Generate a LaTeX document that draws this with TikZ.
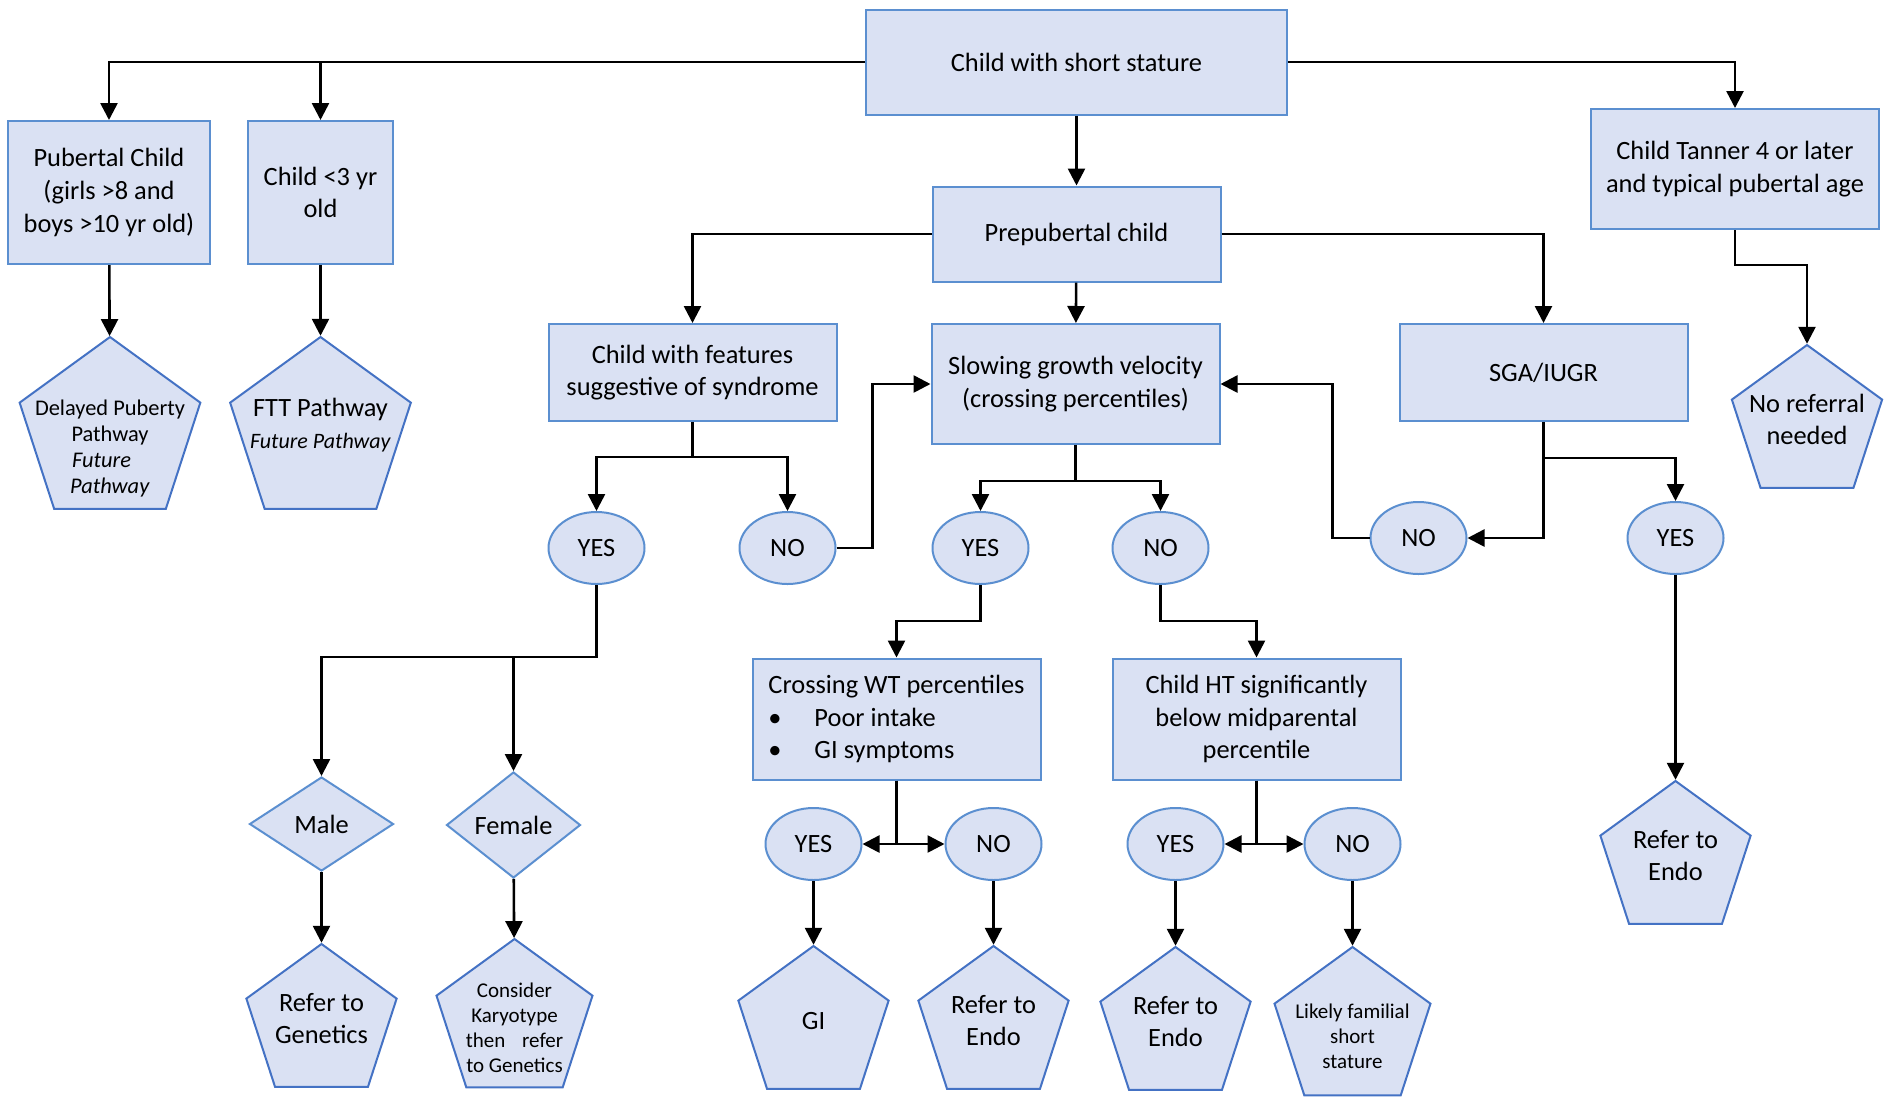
\documentclass[tikz,border=0pt]{standalone}
\usepackage{fontspec}
\setmainfont{Carlito}
\usetikzlibrary{shapes.geometric, arrows.meta}
\definecolor{boxfill}{HTML}{DAE1F3}
\definecolor{boxline}{HTML}{5B8FD0}
\definecolor{pentline}{HTML}{4472C4}
% text inside a pentagon, kept out of the shape size
\newcommand{\pentext}[2][-2pt]{\smash{\makebox[0pt]{\raisebox{#1}{\begin{tabular}{@{}c@{}}#2\end{tabular}}}}}
\tikzstyle{criterion} = [rectangle, minimum width=144pt, minimum height=48.5pt, inner sep=0pt, align=center, draw=boxline, line width=1pt, fill=boxfill, font=\fontsize{13.2}{16.3}\selectfont]
\tikzstyle{answer} = [ellipse, minimum width=48pt, minimum height=36pt, inner sep=0pt, draw=boxline, line width=1pt, fill=boxfill, font=\fontsize{13.2}{16}\selectfont]
\tikzstyle{gender} = [diamond, minimum width=72pt, minimum height=47pt, inner sep=0pt, draw=boxline, line width=1pt, fill=boxfill, font=\fontsize{13.2}{16}\selectfont]
\tikzstyle{pathway} = [regular polygon, regular polygon sides=5, minimum size=79pt, inner sep=0pt, draw=pentline, line width=1pt, fill=boxfill, font=\fontsize{13.2}{15.8}\selectfont]
\tikzstyle{arrow} = [line width=1.3pt, -{Triangle[width=8.5pt,length=8.5pt]}]

\begin{document}
\begin{tikzpicture}[x=0.5pt, y=-0.5pt, node distance=80pt]
\useasboundingbox (0,0) rectangle (1891,1099);

% Nodes
\node (start) [criterion, minimum width=210.5pt, minimum height=52.5pt] at (1076.5,62) {Child with short stature};
\node (prep) [criterion, minimum height=47.5pt, below of=start, yshift=-6pt] {Prepubertal child};
\node (pub) [criterion, minimum width=101pt, minimum height=71.5pt, below of=start, xshift=-483.75pt, yshift=14.75pt] {Pubertal Child\\(girls >8 and\\boys >10 yr old)};
\node (young) [criterion, minimum width=72.5pt, minimum height=71.5pt, right of=pub, xshift=25.75pt] {Child <3 yr\\old};
\node (tanner) [criterion, minimum height=60pt, below of=start, xshift=329.25pt, yshift=26.5pt] {Child Tanner 4 or later\\and typical pubertal age};
\node (delay) [pathway, minimum size=95pt, font=\fontsize{11.2}{13}\selectfont, below of=pub, xshift=0.5pt, yshift=-39.75pt] {\pentext[-11.5pt]{Delayed Puberty\\Pathway\\\textit{Future}\hspace*{8.5pt}\\\textit{Pathway}}};
\node (ftt) [pathway, minimum size=95pt, below of=young, yshift=-39.75pt] {\pentext[0pt]{FTT Pathway\\\fontsize{11}{16.5}\selectfont\textit{Future Pathway}}};
\node (noref) [pathway, below of=tanner, xshift=36pt, yshift=-47.5pt] {\pentext{No referral\\needed}};

\node (feat) [criterion, below of=prep, xshift=-192pt, yshift=10.75pt] {Child with features\\suggestive of syndrome};
\node (slow) [criterion, minimum height=60pt, below of=prep, xshift=-0.5pt, yshift=5pt] {Slowing growth velocity\\(crossing percentiles)};
\node (sga) [criterion, below of=prep, xshift=233.5pt, yshift=10.75pt] {SGA/IUGR};

\node (yes1) [answer, below of=feat, xshift=-48pt, yshift=-7.75pt] {YES};
\node (no1) [answer, below of=feat, xshift=47.5pt, yshift=-7.75pt] {NO};
\node (yes2) [answer, below of=slow, xshift=-47.5pt, yshift=-2pt] {YES};
\node (no2) [answer, below of=slow, xshift=42.5pt, yshift=-2pt] {NO};
\node (no3) [answer, below of=sga, xshift=-62.5pt, yshift=-2.75pt] {NO};
\node (yes3) [answer, below of=sga, xshift=66pt, yshift=-2.75pt] {YES};

\node (male) [gender, below of=yes1, xshift=-137.5pt, yshift=-58pt] {Male};
\node (female) [gender, minimum width=67pt, minimum height=53pt, below of=yes1, xshift=-41.5pt, yshift=-58.5pt] {Female};
\node (genetics) [pathway, below of=male, yshift=-19.5pt] {\pentext{Refer to\\Genetics}};
\node (karyo) [pathway, minimum size=82pt, font=\fontsize{10.5}{12.5}\selectfont, below of=female, xshift=0.5pt, yshift=-18pt] {\pentext[-7pt]{Consider\\Karyotype\\then\hspace{0.8em}refer\\to Genetics}};

\node (cross) [criterion, minimum height=60.5pt, align=left, below of=yes2, xshift=-42pt, yshift=-5.5pt] {Crossing WT percentiles\\\makebox[23pt][l]{\textbullet}Poor intake\\\makebox[23pt][l]{\textbullet}GI symptoms};
\node (ht) [criterion, minimum height=60.5pt, below of=no2, xshift=48pt, yshift=-5.5pt] {Child HT significantly\\below midparental\\percentile};

\node (yes4) [answer, below of=cross, xshift=-41.5pt, yshift=17.5pt] {YES};
\node (no4) [answer, below of=cross, xshift=48.5pt, yshift=17.5pt] {NO};
\node (yes5) [answer, below of=ht, xshift=-40.5pt, yshift=17.5pt] {YES};
\node (no5) [answer, below of=ht, xshift=48pt, yshift=17.5pt] {NO};

\node (gi) [pathway, below of=yes4, yshift=-10.5pt] {\pentext{GI}};
\node (endoa) [pathway, below of=no4, yshift=-10.5pt] {\pentext{Refer to\\Endo}};
\node (endob) [pathway, below of=yes5, yshift=-11pt] {\pentext{Refer to\\Endo}};
\node (likely) [pathway, minimum size=82pt, font=\fontsize{10.5}{12.5}\selectfont, below of=no5, yshift=-12.5pt] {\pentext[-7.5pt]{Likely familial\\short\\stature}};
\node (endoc) [pathway, below of=yes3, yshift=-81pt] {\pentext{Refer to\\Endo}};

% Arrows
\draw [arrow] (start) -- (prep);
\draw [arrow] (start.west) -| (pub);
\draw [arrow] (start.west) -| (young);
\draw [arrow] (start.east) -| (tanner);
\draw [arrow] (pub) -- (delay);
\draw [arrow] (young) -- (ftt);
\draw [arrow] (tanner.south) -- ++(0,35) -| (noref);

\draw [arrow] (prep.west) -| (feat);
\draw [arrow] (prep.east) -| (sga);
\draw [arrow] (prep) -- (slow);

\draw [arrow] (feat.south) -- ++(0,35) -| (yes1);
\draw [arrow] (feat.south) -- ++(0,35) -| (no1);
\draw [arrow] (no1.east) -- ++(36,0) |- (slow.west); % NO goes back to slowing
\draw [arrow] (slow.south) -- ++(0,36) -| (yes2);
\draw [arrow] (slow.south) -- ++(0,36) -| (no2);
\draw [arrow] (sga.south) -- ++(0,36) -| (yes3);
\draw [arrow] (sga.south) |- (no3);
\draw [arrow] (no3.west) -- ++(-37,0) |- (slow.east); % NO goes back to slowing

\draw [arrow] (yes1.south) -- ++(0,72) -| (male);
\draw [arrow] (yes1.south) -- ++(0,72) -| (female);
\draw [arrow] (male) -- (genetics);
\draw [arrow] (female) -- (karyo);

\draw [arrow] (yes2.south) -- ++(0,36) -| (cross);
\draw [arrow] (no2.south) -- ++(0,36) -| (ht);
\draw [arrow] (cross.south) |- (yes4);
\draw [arrow] (cross.south) |- (no4);
\draw [arrow] (ht.south) |- (yes5);
\draw [arrow] (ht.south) |- (no5);
\draw [arrow] (yes4) -- (gi);
\draw [arrow] (no4) -- (endoa);
\draw [arrow] (yes5) -- (endob);
\draw [arrow] (no5) -- (likely);
\draw [arrow] (yes3) -- (endoc);

\end{tikzpicture}
\end{document}
